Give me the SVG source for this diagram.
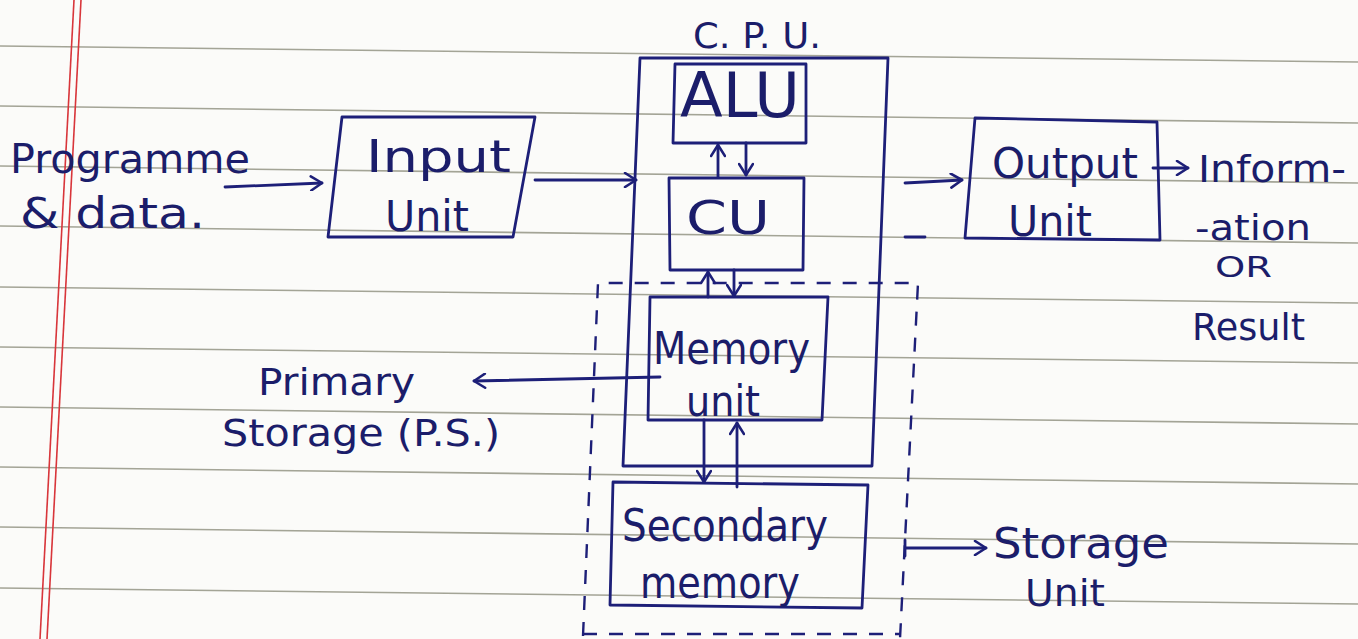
<svg xmlns="http://www.w3.org/2000/svg" width="1358" height="639" viewBox="0 0 1358 639">
<style>
.ink{fill:none;stroke:#1d1f78;stroke-width:2.8;stroke-linejoin:round;stroke-linecap:round}
.dash{fill:none;stroke:#1d1f78;stroke-width:2.4;stroke-dasharray:14 12}
.t{font-family:"DejaVu Sans","Liberation Sans",sans-serif;fill:#1b1d6a;font-weight:normal}
.rule{stroke:#6a6b55;stroke-width:1.6;opacity:0.6}
.margin{stroke:#d8353a;stroke-width:1.6}
</style>
<defs>
<marker id="ah" markerWidth="16" markerHeight="16" refX="13" refY="8" orient="auto" markerUnits="userSpaceOnUse">
<path d="M2,1 L13,8 L2,15" fill="none" stroke="#1d1f78" stroke-width="2.6" stroke-linecap="round" stroke-linejoin="round"/>
</marker>
</defs>
<rect x="0" y="0" width="1358" height="639" fill="#fbfbf9"/>
<g id="paper">
<line class="rule" x1="0" y1="46" x2="1358" y2="62"/>
<line class="rule" x1="0" y1="106" x2="1358" y2="123"/>
<line class="rule" x1="0" y1="166" x2="1358" y2="183"/>
<line class="rule" x1="0" y1="226" x2="1358" y2="243"/>
<line class="rule" x1="0" y1="287" x2="1358" y2="303"/>
<line class="rule" x1="0" y1="347" x2="1358" y2="363"/>
<line class="rule" x1="0" y1="407" x2="1358" y2="424"/>
<line class="rule" x1="0" y1="467" x2="1358" y2="484"/>
<line class="rule" x1="0" y1="527" x2="1358" y2="544"/>
<line class="rule" x1="0" y1="588" x2="1358" y2="604"/>
<line class="margin" x1="74" y1="0" x2="40" y2="639"/>
<line class="margin" x1="81" y1="0" x2="47" y2="639"/>
</g>
<g id="cpu">
<path class="ink" d="M640,58 L888,58 L872,466 L623,466 Z"/>
<text class="t" x="693" y="48" font-size="36" textLength="128" lengthAdjust="spacingAndGlyphs">C. P. U.</text>
</g>
<g id="storage-boundary">
<path class="dash" d="M583,636 L598,283 L918,283 L900,639"/>
<line class="dash" x1="583" y1="634" x2="900" y2="634"/>
</g>
<g id="alu">
<path class="ink" d="M675,64 L806,64 L806,143 L673,143 Z"/>
<text class="t" x="680" y="117" font-size="62" textLength="120" lengthAdjust="spacingAndGlyphs">ALU</text>
</g>
<g id="cu">
<path class="ink" d="M669,178 L804,178 L803,270 L670,270 Z"/>
<text class="t" x="686" y="234" font-size="46" textLength="84" lengthAdjust="spacingAndGlyphs">CU</text>
</g>
<g id="memory">
<path class="ink" d="M650,297 L828,297 L822,420 L648,420 Z"/>
<text class="t" x="653" y="364" font-size="44" textLength="157" lengthAdjust="spacingAndGlyphs">Memory</text>
<text class="t" x="686" y="416" font-size="42" textLength="74" lengthAdjust="spacingAndGlyphs">unit</text>
</g>
<g id="secondary">
<path class="ink" d="M613,482 L868,485 L862,608 L610,605 Z"/>
<text class="t" x="622" y="541" font-size="44" textLength="206" lengthAdjust="spacingAndGlyphs">Secondary</text>
<text class="t" x="640" y="598" font-size="44" textLength="160" lengthAdjust="spacingAndGlyphs">memory</text>
</g>
<g id="input">
<path class="ink" d="M342,117 L535,117 L513,237 L328,237 Z"/>
<text class="t" x="366" y="172" font-size="44" textLength="145" lengthAdjust="spacingAndGlyphs">Input</text>
<text class="t" x="385" y="231" font-size="42" textLength="84" lengthAdjust="spacingAndGlyphs">Unit</text>
</g>
<g id="output">
<path class="ink" d="M975,118 L1157,122 L1160,240 L965,238 Z"/>
<text class="t" x="992" y="178" font-size="42" textLength="146" lengthAdjust="spacingAndGlyphs">Output</text>
<text class="t" x="1008" y="236" font-size="42" textLength="84" lengthAdjust="spacingAndGlyphs">Unit</text>
</g>
<g id="source">
<text class="t" x="10" y="173" font-size="40" textLength="240" lengthAdjust="spacingAndGlyphs">Programme</text>
<text class="t" x="20" y="228" font-size="42" textLength="185" lengthAdjust="spacingAndGlyphs">&amp; data.</text>
</g>
<g id="primary-storage">
<text class="t" x="258" y="395" font-size="38" textLength="157" lengthAdjust="spacingAndGlyphs">Primary</text>
<text class="t" x="222" y="446" font-size="38" textLength="278" lengthAdjust="spacingAndGlyphs">Storage (P.S.)</text>
</g>
<g id="result">
<text class="t" x="1198" y="182" font-size="38" textLength="148" lengthAdjust="spacingAndGlyphs">Inform-</text>
<text class="t" x="1195" y="240" font-size="36" textLength="116" lengthAdjust="spacingAndGlyphs">-ation</text>
<text class="t" x="1215" y="277" font-size="28" textLength="57" lengthAdjust="spacingAndGlyphs">OR</text>
<text class="t" x="1192" y="340" font-size="38" textLength="113" lengthAdjust="spacingAndGlyphs">Result</text>
</g>
<g id="storage-unit">
<text class="t" x="993" y="558" font-size="42" textLength="176" lengthAdjust="spacingAndGlyphs">Storage</text>
<text class="t" x="1025" y="606" font-size="38" textLength="80" lengthAdjust="spacingAndGlyphs">Unit</text>
</g>
<g id="connectors">
<path class="ink" d="M225,187 L322,183" marker-end="url(#ah)"/>
<path class="ink" d="M535,180 L636,180" marker-end="url(#ah)"/>
<path class="ink" d="M905,183 L962,180" marker-end="url(#ah)"/>
<path class="ink" d="M905,237 L925,237"/>
<path class="ink" d="M1153,168 L1188,168" marker-end="url(#ah)"/>
<path class="ink" d="M718,177 L718,145" marker-end="url(#ah)"/>
<path class="ink" d="M746,143 L746,175" marker-end="url(#ah)"/>
<path class="ink" d="M708,297 L708,272" marker-end="url(#ah)"/>
<path class="ink" d="M734,270 L734,296" marker-end="url(#ah)"/>
<path class="ink" d="M660,377 L474,381" marker-end="url(#ah)"/>
<path class="ink" d="M704,420 L704,482" marker-end="url(#ah)"/>
<path class="ink" d="M737,487 L737,423" marker-end="url(#ah)"/>
<path class="ink" d="M905,540 L905,556 M905,548 L986,548" marker-end="url(#ah)"/>
</g>
</svg>
